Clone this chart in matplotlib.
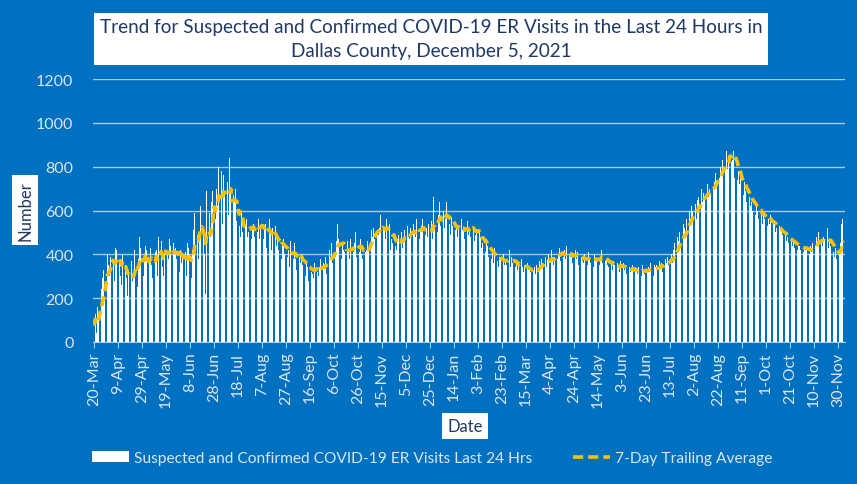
import numpy as np
import pandas as pd
import matplotlib
matplotlib.use("Agg")
import matplotlib.pyplot as plt
from matplotlib.patches import Rectangle
from matplotlib.lines import Line2D

# ---- data (daily counts, starting 20-Mar-2020) ----
start_date = "2020-03-20"
daily_visits = [
    75, 130, 40, 160, 110, 280, 240,
    290, 330, 200, 380, 400, 350, 300,
    390, 410, 380, 280, 430, 420, 390,
    370, 300, 260, 400, 380, 350, 290,
    210, 330, 300, 370, 280, 310, 420,
    400, 250, 380, 480, 430, 360, 300,
    400, 440, 420, 260, 380, 430, 350,
    290, 450, 410, 420, 300, 480, 370,
    460, 340, 300, 420, 530, 410, 380,
    470, 440, 290, 450, 400, 430, 380,
    460, 320, 420, 360, 400, 350, 410,
    300, 450, 430, 380, 290, 420, 510,
    590, 560, 490, 380, 480, 620, 560,
    490, 400, 220, 690, 560, 590, 480,
    640, 690, 660, 560, 700, 620, 800,
    600, 780, 540, 760, 680, 600, 730,
    580, 840, 700, 390, 670, 640, 700,
    550, 600, 530, 480, 590, 500, 460,
    530, 560, 480, 500, 610, 470, 510,
    540, 480, 600, 500, 560, 470, 520,
    590, 470, 520, 540, 430, 500, 560,
    490, 420, 520, 460, 530, 440, 470,
    420, 490, 380, 450, 470, 400, 440,
    390, 420, 340, 460, 400, 380, 450,
    380, 330, 420, 390, 360, 400, 350,
    350, 300, 370, 340, 280, 390, 320,
    310, 290, 360, 350, 320, 300, 340,
    380, 330, 360, 340, 390, 310, 370,
    420, 390, 450, 360, 430, 410, 460,
    540, 470, 440, 380, 450, 420, 410,
    390, 460, 420, 380, 470, 430, 410,
    450, 500, 390, 430, 410, 470, 400,
    380, 440, 410, 420, 460, 430, 470,
    510, 480, 520, 470, 560, 500, 490,
    520, 580, 480, 530, 510, 470, 560,
    500, 540, 420, 470, 450, 480, 440,
    420, 470, 490, 450, 500, 430, 480,
    510, 460, 530, 480, 470, 520, 500,
    540, 500, 480, 560, 520, 470, 510,
    530, 560, 500, 490, 520, 480, 540,
    500, 550, 470, 660, 520, 560, 500,
    580, 640, 530, 570, 600, 520, 560,
    640, 580, 540, 490, 570, 530, 520,
    510, 540, 480, 530, 500, 560, 510,
    520, 470, 510, 550, 490, 500, 480,
    600, 520, 460, 490, 500, 470, 510,
    480, 430, 450, 460, 410, 470, 440,
    390, 420, 380, 410, 360, 430, 400,
    370, 340, 390, 380, 360, 400, 350,
    380, 350, 370, 420, 340, 390, 360,
    360, 340, 370, 330, 360, 350, 380,
    340, 320, 350, 310, 360, 330, 340,
    320, 300, 330, 340, 310, 350, 330,
    370, 340, 380, 360, 350, 390, 340,
    380, 400, 360, 420, 370, 350, 390,
    460, 380, 400, 430, 370, 410, 390,
    420, 380, 440, 370, 400, 390, 410,
    360, 400, 420, 380, 410, 350, 400,
    390, 370, 360, 400, 380, 350, 410,
    380, 360, 390, 340, 400, 370, 380,
    400, 350, 390, 420, 360, 380, 370,
    370, 350, 340, 380, 360, 330, 370,
    350, 330, 360, 340, 320, 370, 340,
    360, 330, 340, 310, 350, 340, 320,
    330, 350, 300, 340, 320, 310, 340,
    320, 300, 350, 330, 310, 340, 320,
    340, 320, 360, 330, 300, 350, 340,
    350, 330, 370, 340, 360, 320, 370,
    380, 360, 390, 350, 370, 400, 360,
    420, 450, 400, 480, 460, 500, 430,
    470, 540, 520, 490, 560, 530, 600,
    560, 620, 600, 580, 630, 560, 650,
    660, 620, 700, 640, 680, 650, 690,
    720, 660, 700, 680, 740, 700, 730,
    770, 730, 790, 750, 800, 770, 830,
    840, 800, 870, 790, 850, 960, 820,
    830, 870, 750, 790, 740, 780, 720,
    750, 710, 670, 730, 690, 640, 680,
    660, 620, 640, 600, 660, 580, 620,
    600, 560, 610, 580, 540, 600, 560,
    570, 530, 560, 540, 580, 520, 550,
    540, 500, 520, 490, 530, 510, 500,
    490, 470, 500, 460, 480, 450, 470,
    460, 440, 470, 430, 450, 420, 440,
    440, 420, 450, 410, 430, 420, 430,
    420, 400, 440, 410, 450, 430, 440,
    480, 460, 500, 450, 470, 440, 480,
    470, 450, 520, 430, 460, 440, 420,
    410, 390, 430, 380, 420, 400, 450,
    540, 560, 480,
]
tick_step_days = 20
title_text = "Trend for Suspected and Confirmed COVID-19 ER Visits in the Last 24 Hours in\nDallas County, December 5, 2021"
bar_label = "Suspected and Confirmed COVID-19 ER Visits Last 24 Hrs"
line_label = "7-Day Trailing Average"
y_ticks = [0, 200, 400, 600, 800, 1000, 1200]

# ---- derived ----
dates = pd.date_range(start_date, periods=len(daily_visits), freq="D")
values = pd.Series(daily_visits, index=dates)
trailing = values.rolling(7, min_periods=1).mean()
x = np.arange(len(dates))
tick_pos = x[::tick_step_days]
tick_lbl = [f"{d.day}-{d.strftime('%b')}" for d in dates[::tick_step_days]]

BG = "#0070C0"
LIGHT = "#DAE6F4"
GRID = "#A9C9EA"
FONT = "Lato"

fig = plt.figure(figsize=(8.57, 4.85), dpi=100, facecolor=BG)
ax = fig.add_axes([93/857, 1-343/485, (845-93)/857, (343-80)/485])
ax.set_facecolor(BG)
ax.bar(x, values.values, width=0.68, color="white", linewidth=0, zorder=2)
ax.plot(x, trailing.values, color="#FFC000", lw=2.6,
        linestyle=(0, (2.8, 1.4)), zorder=3)

ax.set_xlim(-0.8, len(x) - 0.2)
ax.set_ylim(0, 1200)
ax.set_yticks(y_ticks)
ax.set_yticklabels([str(v) for v in y_ticks], color=LIGHT, fontsize=11.5, family=FONT)
ax.set_xticks(tick_pos)
ax.set_xticklabels(tick_lbl, rotation=90, color=LIGHT, fontsize=11.5, family=FONT)
ax.tick_params(axis="y", length=0, pad=14)
ax.tick_params(axis="x", length=4, color=GRID, pad=3)
ax.grid(axis="y", color=GRID, lw=1.0, zorder=0)
ax.set_axisbelow(True)
for s in ["top", "right", "left"]:
    ax.spines[s].set_visible(False)
ax.spines["bottom"].set_color(GRID)

# title box
fig.text(431/857, 1-40/485, title_text, ha="center", va="center",
         fontsize=13.6, color="#1F3864", family=FONT, linespacing=1.5,
         bbox=dict(boxstyle="square,pad=0.3", facecolor="white", edgecolor="none"))

# axis title boxes
fig.text(25/857, 1-211/485, "Number", rotation=90, ha="center", va="center",
         fontsize=12, color="#1F3864", family=FONT,
         bbox=dict(boxstyle="square,pad=0.3", facecolor="white", edgecolor="none"))
fig.text(465/857, 1-427/485, "Date", ha="center", va="center",
         fontsize=12, color="#1F3864", family=FONT,
         bbox=dict(boxstyle="square,pad=0.3", facecolor="white", edgecolor="none"))

# legend
handles = [Rectangle((0, 0), 1, 1, facecolor="white", edgecolor="none"),
           Line2D([0], [0], color="#FFC000", lw=2.6, linestyle=(0, (2.8, 1.4)))]
leg = fig.legend(handles, [bar_label, line_label], loc="center",
                 bbox_to_anchor=(432/857, 1-459/485), ncol=2, frameon=False,
                 labelcolor=LIGHT, handlelength=2.4,
                 handletextpad=0.3, columnspacing=2.6,
                 prop=dict(family=FONT, size=11.2))

fig.savefig("out.png", dpi=100, facecolor=BG)
